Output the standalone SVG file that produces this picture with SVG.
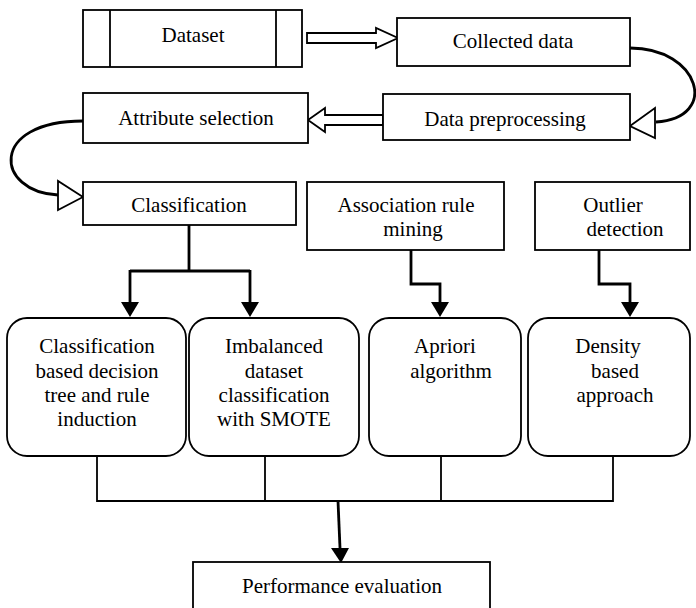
<svg xmlns="http://www.w3.org/2000/svg" width="696" height="608" viewBox="0 0 696 608">
<style>
text{font-family:'Liberation Serif','DejaVu Serif',serif;font-size:21px;fill:#000;text-anchor:middle}
.box{fill:#fff;stroke:#000;stroke-width:1.8}
.conn{fill:none;stroke:#000;stroke-width:2.8}
.thin{fill:none;stroke:#000;stroke-width:1.8}
.hollow{fill:#fff;stroke:#000;stroke-width:1.8;stroke-linejoin:miter}
</style>
<rect width="696" height="608" fill="#fff"/>

<g id="connectors">
<path class="hollow" d="M307,33 L376,33 L376,28 L398,38 L376,48 L376,43 L307,43 Z"/>
<path class="hollow" d="M383,115 L325,115 L325,108 L308,120 L325,132 L325,125 L383,125 Z"/>
<path class="conn" d="M630,48 C700,48 720,118 656,122"/>
<path class="hollow" d="M630,126 L655,108 L655,138 Z"/>
<path class="conn" d="M83,121 C-12,121 -5,192 58,195"/>
<path class="hollow" d="M83,197 L58,181 L58,210 Z"/>
<path class="conn" d="M189,225 L189,271 M130,271 L250,271"/>
<path class="conn" d="M130,270 L130,302"/>
<path class="conn" d="M250,270 L250,302"/>
<path d="M121,302 L139,302 L130,317 Z"/>
<path d="M241,302 L259,302 L250,317 Z"/>
<path class="conn" d="M411,250 L411,284 L440,284 L440,302"/>
<path d="M431,302 L449,302 L440,317 Z"/>
<path class="conn" d="M599,250 L599,284 L630,284 L630,302"/>
<path d="M621,302 L639,302 L630,317 Z"/>
<path class="thin" d="M97,456 L97,501 L613,501 L613,456 M265,456 L265,501 M441,456 L441,501"/>
<path class="conn" d="M338,501 L340,548"/>
<path d="M331,548 L349,548 L341,563 Z"/>
</g>

<g font-family="Liberation Serif, serif">
<g id="dataset">
<rect class="box" x="83" y="10" width="219" height="57"/>
<line class="thin" x1="110" y1="10" x2="110" y2="67"/>
<line class="thin" x1="276" y1="10" x2="276" y2="67"/>
<text x="193" y="42">Dataset</text>
</g>
<g id="collected">
<rect class="box" x="397" y="18" width="233" height="48"/>
<text x="513" y="48">Collected data</text>
</g>
<g id="preprocessing">
<rect class="box" x="383" y="94" width="247" height="46"/>
<text x="505" y="126">Data preprocessing</text>
</g>
<g id="attribute">
<rect class="box" x="83" y="93" width="225" height="50"/>
<text x="196" y="125">Attribute selection</text>
</g>
<g id="classification">
<rect class="box" x="83" y="182" width="213" height="43"/>
<text x="189" y="212">Classification</text>
</g>
<g id="association">
<rect class="box" x="307" y="182" width="197" height="68"/>
<text x="406" y="212">Association rule</text>
<text x="413" y="236">mining</text>
</g>
<g id="outlier">
<rect class="box" x="535" y="182" width="155" height="68"/>
<text x="613" y="212">Outlier</text>
<text x="625" y="236">detection</text>
</g>
<g id="decisiontree">
<rect class="box" x="7" y="318" width="179" height="138" rx="20"/>
<text x="97" y="353">Classification</text>
<text x="97" y="378">based decision</text>
<text x="97" y="402">tree and rule</text>
<text x="97" y="426">induction</text>
</g>
<g id="smote">
<rect class="box" x="189" y="318" width="170" height="138" rx="20"/>
<text x="274" y="353">Imbalanced</text>
<text x="274" y="378">dataset</text>
<text x="274" y="402">classification</text>
<text x="274" y="426">with SMOTE</text>
</g>
<g id="apriori">
<rect class="box" x="369" y="318" width="152" height="138" rx="20"/>
<text x="445" y="353">Apriori</text>
<text x="451" y="378">algorithm</text>
</g>
<g id="density">
<rect class="box" x="528" y="318" width="162" height="138" rx="20"/>
<text x="608" y="353">Density</text>
<text x="615" y="378">based</text>
<text x="615" y="402">approach</text>
</g>
<g id="performance">
<rect class="box" x="193" y="562" width="297" height="60"/>
<text x="342" y="593">Performance evaluation</text>
</g>
</g>
</svg>
